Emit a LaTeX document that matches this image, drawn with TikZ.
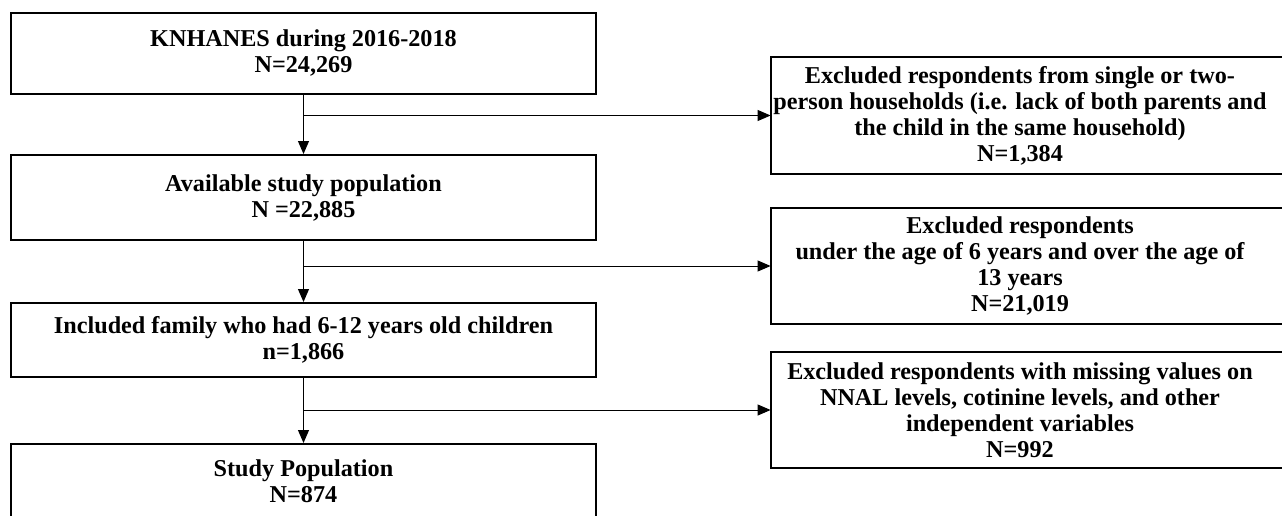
\documentclass[tikz,border=0pt]{standalone}
\usepackage{fontspec}
\setmainfont{Liberation Serif}
\usetikzlibrary{positioning,arrows.meta}

\begin{document}
\begin{tikzpicture}[x=0.5pt,y=-0.5pt,
	boxfont/.style={align=center,inner sep=0pt,font=\fontsize{12.1}{13}\selectfont\bfseries},
	flowbox/.style={boxfont,draw,line width=1pt,minimum width=292.5pt},
	sidebox/.style={boxfont,minimum width=249pt,minimum height=58pt},
	flow/.style={line width=0.5pt,-{Triangle[length=6.5pt,width=5.5pt]}}]
\useasboundingbox (0,0) rectangle (1282,515);
\clip (0,0) rectangle (1282,515);
% main column
\node [flowbox,minimum height=40.75pt] (knhanes) at (303.5,53.25) {KNHANES during 2016-2018\\N=24,269};
\node [flowbox,minimum height=42.5pt] (avail) at (303.5,197.5) {Available study population\\N =22,885};
\node [flowbox,minimum height=37pt] (incl) at (303.5,340) {Included family who had 6-12 years old children\\n=1,866};
\node [flowbox,minimum height=37pt] (study) at (303.5,481) {Study Population\\N=874};
% exclusions (boxes run past the right edge)
\node [sidebox] (excl1) at (1020,115.5) {Excluded respondents from single or two-\\person households (i.e. lack of both parents and\\the child in the same household)\\N=1,384};
\node [sidebox] (excl2) at (1020,266) {Excluded respondents\\under the age of 6 years and over the age of\\13 years\\N=21,019};
\node [sidebox] (excl3) at (1020,410) {Excluded respondents with missing values on\\NNAL levels, cotinine levels, and other\\independent variables\\N=992};
\foreach \n in {excl1,excl2,excl3}
	\draw [line width=1pt] (\n.north west) rectangle ([xshift=12pt]\n.south east);
\path (knhanes) edge[flow] (avail)
(avail) edge[flow] (incl)
(incl) edge[flow] (study)
(knhanes.south |- excl1.west) edge[flow] (excl1.west)
(avail.south |- excl2.west) edge[flow] (excl2.west)
(incl.south |- excl3.west) edge[flow] (excl3.west);
\end{tikzpicture}
\end{document}
